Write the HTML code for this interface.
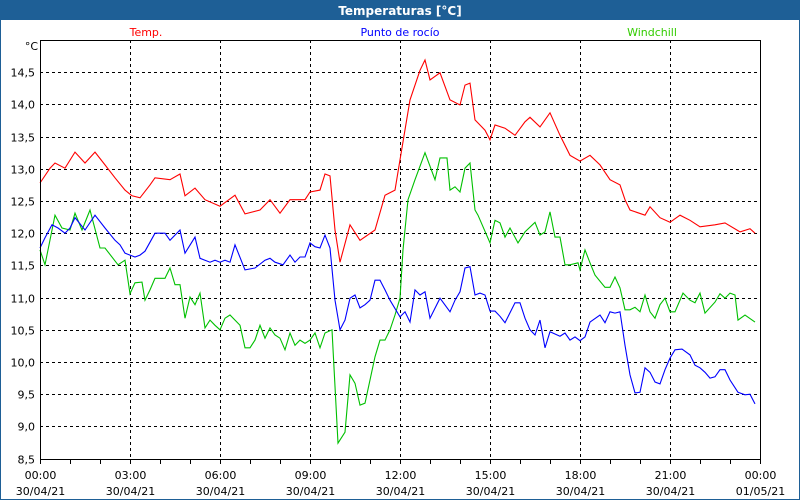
<!DOCTYPE html>
<html><head><meta charset="utf-8"><style>
body{margin:0;background:#fff}
svg{display:block;font-family:Tahoma,"DejaVu Sans","Liberation Sans",sans-serif}
</style></head><body>
<svg id="c" width="800" height="500" viewBox="0 0 800 500">
<rect x="0" y="0" width="800" height="500" fill="#fff" stroke="#1e5f96" stroke-width="2"/>
<rect x="0" y="0" width="800" height="20" fill="#1e5f96"/>
<text x="400" y="15" text-anchor="middle" fill="#fff" font-size="12" font-weight="bold">Temperaturas [°C]</text>
<text x="146" y="36" text-anchor="middle" fill="#ff0000" font-size="11">Temp.</text>
<text x="400" y="36" text-anchor="middle" fill="#0000ff" font-size="11">Punto de rocío</text>
<text x="652" y="36" text-anchor="middle" fill="#33cc00" font-size="11">Windchill</text>
<text x="38" y="50" text-anchor="end" fill="#000" font-size="11">°C</text>
<g id="grid"></g><g id="series"></g>
<rect x="40.5" y="40.5" width="720" height="419" fill="none" stroke="#000" stroke-width="1"/>
</svg>
<script>
const yTicks=[8.5,9.0,9.5,10.0,10.5,11.0,11.5,12.0,12.5,13.0,13.5,14.0,14.5];
const xTickLabels=["00:00","03:00","06:00","09:00","12:00","15:00","18:00","21:00","00:00"];
const xDateLabels=["30/04/21","30/04/21","30/04/21","30/04/21","30/04/21","30/04/21","30/04/21","30/04/21","01/05/21"];
const tempT=[0,20,30,50,70,90,110,130,150,170,184,200,220,230,260,280,290,310,330,360,390,410,440,460,480,500,530,540,560,570,580,590,600,620,640,670,690,710,720,740,760,770,780,800,820,840,850,860,870,890,900,910,930,950,970,980,1000,1020,1040,1060,1080,1100,1120,1140,1160,1170,1180,1210,1220,1240,1260,1280,1300,1320,1350,1370,1400,1420,1430];
const tempV=[12.78,13.01,13.09,13.01,13.26,13.09,13.26,13.06,12.86,12.67,12.58,12.55,12.75,12.86,12.83,12.92,12.58,12.70,12.52,12.42,12.59,12.30,12.36,12.52,12.31,12.52,12.52,12.64,12.67,12.92,12.89,12.05,11.55,12.13,11.89,12.05,12.59,12.67,13.14,14.07,14.53,14.69,14.38,14.49,14.07,13.99,14.30,14.33,13.76,13.60,13.45,13.68,13.63,13.52,13.73,13.80,13.65,13.87,13.52,13.21,13.12,13.21,13.06,12.83,12.75,12.52,12.36,12.28,12.41,12.24,12.17,12.28,12.20,12.10,12.13,12.16,12.02,12.07,12.00];
const chillT=[0,10,30,44,60,70,84,100,120,130,156,170,180,190,204,210,220,230,250,260,270,280,290,300,310,320,330,340,350,360,370,380,400,410,420,430,440,450,460,470,480,490,500,510,520,530,540,550,560,570,584,596,610,620,630,640,650,670,680,690,700,710,720,726,736,750,770,790,800,814,820,830,840,850,860,870,876,900,910,920,930,940,956,970,990,1000,1010,1020,1030,1040,1050,1060,1076,1080,1090,1100,1110,1130,1140,1150,1160,1170,1180,1190,1200,1210,1220,1230,1240,1250,1260,1270,1286,1300,1310,1320,1330,1350,1360,1370,1380,1390,1396,1410,1430];
const chillV=[11.74,11.51,12.28,12.08,12.05,12.31,12.05,12.36,11.77,11.77,11.51,11.58,11.06,11.23,11.24,10.96,11.12,11.30,11.30,11.46,11.20,11.20,10.68,11.01,10.89,11.07,10.53,10.65,10.57,10.50,10.68,10.73,10.57,10.22,10.22,10.34,10.57,10.37,10.53,10.42,10.37,10.19,10.45,10.26,10.34,10.29,10.34,10.45,10.22,10.45,10.50,8.74,8.91,9.80,9.67,9.33,9.36,10.08,10.34,10.34,10.50,10.73,10.99,11.74,12.52,12.83,13.25,12.83,13.17,13.17,12.67,12.72,12.64,13.01,13.09,12.36,12.28,11.85,12.20,12.16,11.94,12.08,11.85,12.02,12.17,11.97,12.02,12.33,11.94,11.94,11.51,11.51,11.54,11.43,11.74,11.54,11.35,11.16,11.16,11.32,11.15,10.81,10.81,10.85,10.78,11.04,10.78,10.68,10.89,10.99,10.78,10.78,11.07,10.96,10.92,11.07,10.76,10.93,11.06,10.99,11.07,11.04,10.65,10.73,10.62];
const dewT=[0,10,24,36,50,60,70,90,110,130,150,160,170,180,190,200,210,230,250,260,280,290,310,320,340,350,360,370,380,390,410,430,450,460,470,486,500,510,520,530,540,550,560,570,580,590,600,610,620,630,640,650,660,670,680,690,700,720,730,740,750,760,770,780,800,820,830,840,850,860,870,880,890,900,910,920,930,950,960,970,980,990,1000,1010,1020,1040,1050,1060,1070,1080,1090,1100,1120,1130,1140,1150,1160,1170,1180,1190,1200,1210,1220,1230,1240,1250,1260,1270,1284,1300,1310,1320,1330,1340,1350,1360,1370,1380,1396,1410,1420,1430];
const dewV=[11.77,11.93,12.13,12.08,12.00,12.08,12.24,12.05,12.28,12.08,11.89,11.82,11.69,11.66,11.63,11.66,11.72,12.00,12.00,11.89,12.05,11.69,11.94,11.61,11.55,11.58,11.55,11.58,11.55,11.82,11.43,11.46,11.58,11.61,11.55,11.51,11.66,11.55,11.63,11.63,11.85,11.79,11.77,11.97,11.77,10.96,10.50,10.65,10.99,11.04,10.84,10.89,10.96,11.27,11.27,11.12,10.96,10.70,10.78,10.62,11.12,11.04,11.09,10.68,10.99,10.78,10.96,11.09,11.46,11.48,11.04,11.07,11.04,10.79,10.79,10.71,10.61,10.92,10.92,10.68,10.50,10.42,10.65,10.22,10.47,10.40,10.45,10.34,10.39,10.33,10.39,10.62,10.73,10.61,10.78,10.76,10.78,10.26,9.80,9.52,9.53,9.91,9.84,9.69,9.66,9.88,10.06,10.19,10.20,10.11,9.95,9.91,9.84,9.75,9.77,9.88,9.88,9.72,9.53,9.49,9.50,9.35];

const NS='http://www.w3.org/2000/svg';
const X0=40,X1=760,Y0=40,PX=64.4,VMAX=15;
function xs(m){return X0+(X1-X0)*m/1440;}
function ys(v){return Y0+(VMAX-v)*PX;}
const grid=document.getElementById('grid'),ser=document.getElementById('series');
function mk(tag,attrs,parent){const e=document.createElementNS(NS,tag);for(const k in attrs)e.setAttribute(k,attrs[k]);parent.appendChild(e);return e;}
yTicks.forEach(v=>{
  const y=Math.round(ys(v))+0.5;
  const l=mk('line',{x1:X0,x2:X1,y1:y,y2:y,stroke:'#000','stroke-dasharray':'3,3'},grid);
  
  
  const t=mk('text',{x:35,y:y+4,'text-anchor':'end','font-size':11,fill:'#000'},grid);
  t.textContent=v.toFixed(1).replace('.',',');
  
  
});
for(let h=0;h<=24;h++){
  const x=Math.round(xs(h*60))+0.5;
  const tk=mk('line',{x1:x,x2:x,y1:460,y2:464,stroke:'#000'},grid);
  
  
}
xTickLabels.forEach((s,i)=>{
  const x=Math.round(xs(i*180))+0.5;
  if(i>0&&i<8){const l=mk('line',{x1:x,x2:x,y1:Y0,y2:460,stroke:'#000','stroke-dasharray':'3,3'},grid);
  
  }
  const t=mk('text',{x:x,y:479,'text-anchor':'middle','font-size':11,fill:'#000'},grid);
  t.textContent=s;
  
  
  const d=mk('text',{x:x,y:495,'text-anchor':'middle','font-size':11,fill:'#000'},grid);
  d.textContent=xDateLabels[i];
  
  
});
function line(T,V,color,name){
  const n=Math.min(T.length,V.length);const pts=[];
  for(let i=0;i<n;i++)pts.push(xs(T[i]).toFixed(1)+','+ys(V[i]).toFixed(1));
  const p=mk('polyline',{points:pts.join(' '),fill:'none',stroke:color,'stroke-width':1.1},ser);
  
  
}
line(chillT,chillV,'#00c000','windchill-line');
line(dewT,dewV,'#0000ff','dew-point-line');
line(tempT,tempV,'#ff0000','temp-line');
</script>
</body></html>
